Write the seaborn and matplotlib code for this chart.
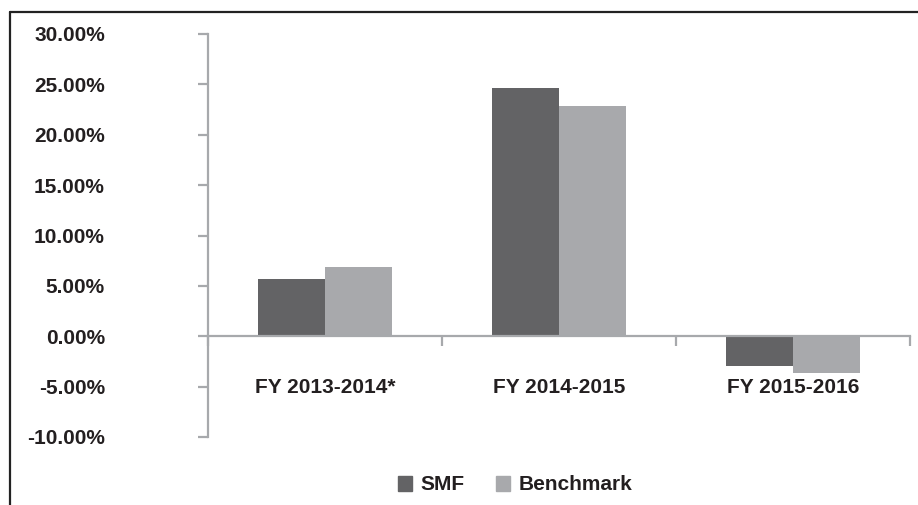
import pandas as pd
import matplotlib
matplotlib.use("Agg")
import matplotlib.pyplot as plt
import seaborn as sns
from matplotlib.lines import Line2D
from matplotlib.ticker import FixedLocator

# Data (returns in %)
periods = ["FY 2013-2014*", "FY 2014-2015", "FY 2015-2016"]
smf = [5.7, 24.6, -3.0]
benchmark = [6.9, 22.9, -3.6]
series_names = ["SMF", "Benchmark"]
y_ticks = [-10, -5, 0, 5, 10, 15, 20, 25, 30]
y_tick_labels = ["-10.00%", "-5.00%", "0.00%", "5.00%", "10.00%",
                 "15.00%", "20.00%", "25.00%", "30.00%"]

sns.set_style("white")
plt.rcParams['font.family'] = ['Liberation Sans', 'DejaVu Sans']
plt.rcParams['font.weight'] = 'bold'

TEXT = '#231f20'
AXIS = '#a7a9ac'
FS = 15
colors = ['#636365', '#a8a9ac']

df = pd.DataFrame({
    'period': periods * 2,
    'ret': smf + benchmark,
    'fund': [series_names[0]] * 3 + [series_names[1]] * 3,
})

fig = plt.figure(figsize=(9.18, 5.05), dpi=100)
ax = fig.add_axes([208 / 918, 68 / 505, 702 / 918, 403 / 505])

sns.barplot(data=df, x='period', y='ret', hue='fund', palette=colors,
            width=0.573, saturation=1, linewidth=0, ax=ax, legend=False)

ax.set_xlim(-0.5, 2.5)
ax.set_ylim(-10, 30)
ax.set_xlabel("")
ax.set_ylabel("")

for s in ['top', 'right']:
    ax.spines[s].set_visible(False)
for s in ['left', 'bottom']:
    ax.spines[s].set_color(AXIS)
    ax.spines[s].set_linewidth(1.6)
ax.spines['bottom'].set_position(('data', 0))

ax.set_yticks(y_ticks)
ax.set_yticklabels(y_tick_labels)
ax.tick_params(axis='y', direction='out', length=7.2, width=1.6, color=AXIS,
               pad=67, labelsize=FS, labelcolor=TEXT, left=True)
for lbl in ax.get_yticklabels():
    lbl.set_fontweight('bold')

ax.xaxis.set_minor_locator(FixedLocator([-0.5, 0.5, 1.5, 2.5]))
ax.tick_params(axis='x', which='minor', direction='out', length=7.2,
               width=1.6, color=AXIS, bottom=True)
ax.tick_params(axis='x', which='major', length=0, pad=30,
               labelsize=FS, labelcolor=TEXT)
for lbl in ax.get_xticklabels():
    lbl.set_fontweight('bold')

handles = [plt.Rectangle((0, 0), 1, 1, color=c) for c in colors]
fig.legend(handles, series_names, loc='center', bbox_to_anchor=(515 / 918, 20 / 505),
           ncol=2, frameon=False, handlelength=0.7, handleheight=0.7,
           handletextpad=0.4, columnspacing=1.5,
           prop={'weight': 'bold', 'size': FS}, labelcolor=TEXT)

# frame lines of the original graphic (left and top)
fig.add_artist(Line2D([10 / 918, 10 / 918], [0, 493 / 505], color='#222222', lw=1.6))
fig.add_artist(Line2D([10 / 918, 1], [493 / 505, 493 / 505], color='#222222', lw=1.6))

fig.savefig("out.png", dpi=100)
